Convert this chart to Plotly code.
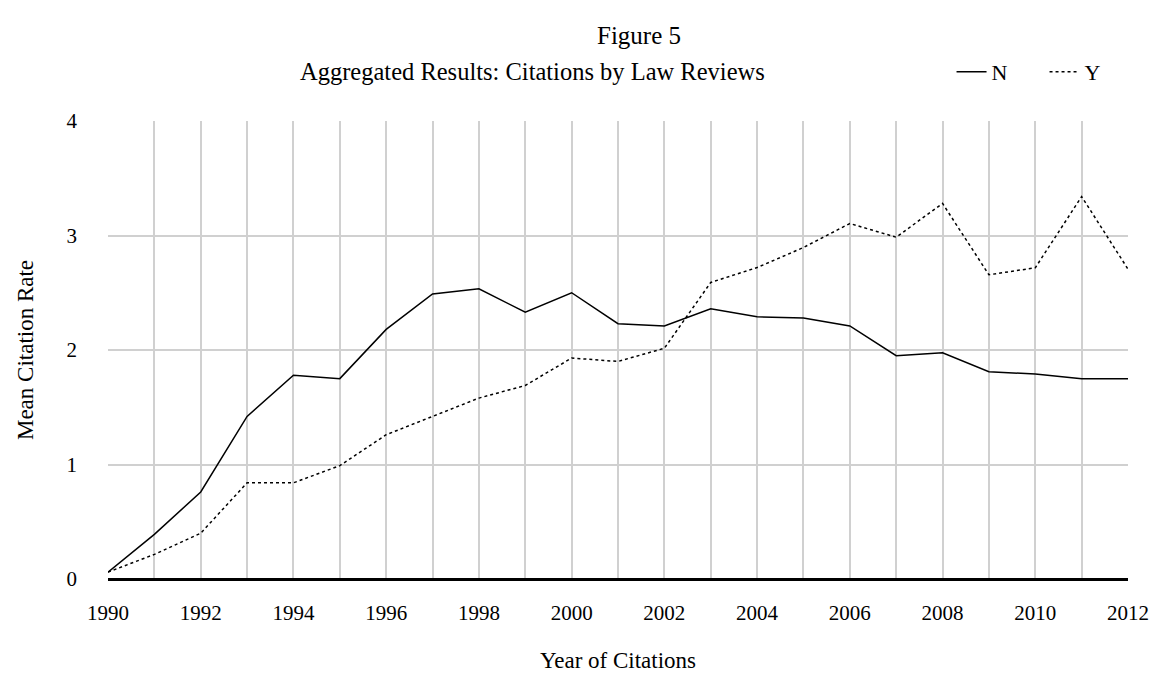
import plotly.graph_objects as go

years = list(range(1990, 2013))
n_values = [0.06, 0.39, 0.76, 1.42, 1.78, 1.75, 2.18, 2.49, 2.535, 2.33, 2.50, 2.23,
            2.21, 2.36, 2.29, 2.28, 2.21, 1.95, 1.975, 1.81, 1.79, 1.75, 1.75]
y_values = [0.06, 0.215, 0.40, 0.84, 0.84, 0.99, 1.26, 1.42, 1.58, 1.69, 1.93, 1.90,
            2.015, 2.59, 2.72, 2.895, 3.105, 2.985, 3.28, 2.657, 2.718, 3.34, 2.706]
x_tick_years = list(range(1990, 2013, 2))
y_ticks = [0, 1, 2, 3, 4]

FONT = "Liberation Serif, DejaVu Serif, serif"

fig = go.Figure()
fig.add_trace(go.Scatter(x=years, y=n_values, mode="lines", name="N",
                         line=dict(color="black", width=1.5)))
fig.add_trace(go.Scatter(x=years, y=y_values, mode="lines", name="Y",
                         line=dict(color="black", width=1.5, dash="dot")))

fig.update_layout(
    width=1158, height=676,
    margin=dict(l=100, r=38, t=113, b=105),
    paper_bgcolor="white", plot_bgcolor="white",
    font=dict(family=FONT, size=21, color="black"),
    showlegend=True,
    legend=dict(orientation="h", x=0.827, xanchor="left", y=1.107, yanchor="middle",
                font=dict(size=22), bgcolor="rgba(0,0,0,0)", entrywidth=48,
                entrywidthmode="pixels"),
    annotations=[
        dict(text="Figure 5", x=0.5206, y=1.187, xref="paper", yref="paper",
             showarrow=False, font=dict(size=25), xanchor="center", yanchor="middle"),
        dict(text="Aggregated Results: Citations by Law Reviews", x=0.4157, y=1.107,
             xref="paper", yref="paper", showarrow=False, font=dict(size=24.5),
             xanchor="center", yanchor="middle"),
    ],
)

fig.update_xaxes(
    range=[1990, 2012], tickvals=x_tick_years, ticktext=[str(v) for v in x_tick_years],
    showgrid=True, gridcolor="#d0d0d0", gridwidth=1.5,
    minor=dict(dtick=1, tick0=1990, showgrid=True, gridcolor="#d0d0d0", gridwidth=1.5),
    showline=False, zeroline=False, ticks="", ticklabelstandoff=19,
    tickfont=dict(size=21),
    title=dict(text="Year of Citations", font=dict(size=23), standoff=27),
)
fig.update_yaxes(
    range=[0, 4], tickvals=y_ticks, ticktext=[str(v) for v in y_ticks],
    showgrid=True, gridcolor="#d0d0d0", gridwidth=1.5,
    zeroline=True, zerolinecolor="black", zerolinewidth=3,
    showline=False, ticks="", ticklabelstandoff=30,
    tickfont=dict(size=21),
    title=dict(text="Mean Citation Rate", font=dict(size=23), standoff=26),
)

fig.write_html("out.html")
